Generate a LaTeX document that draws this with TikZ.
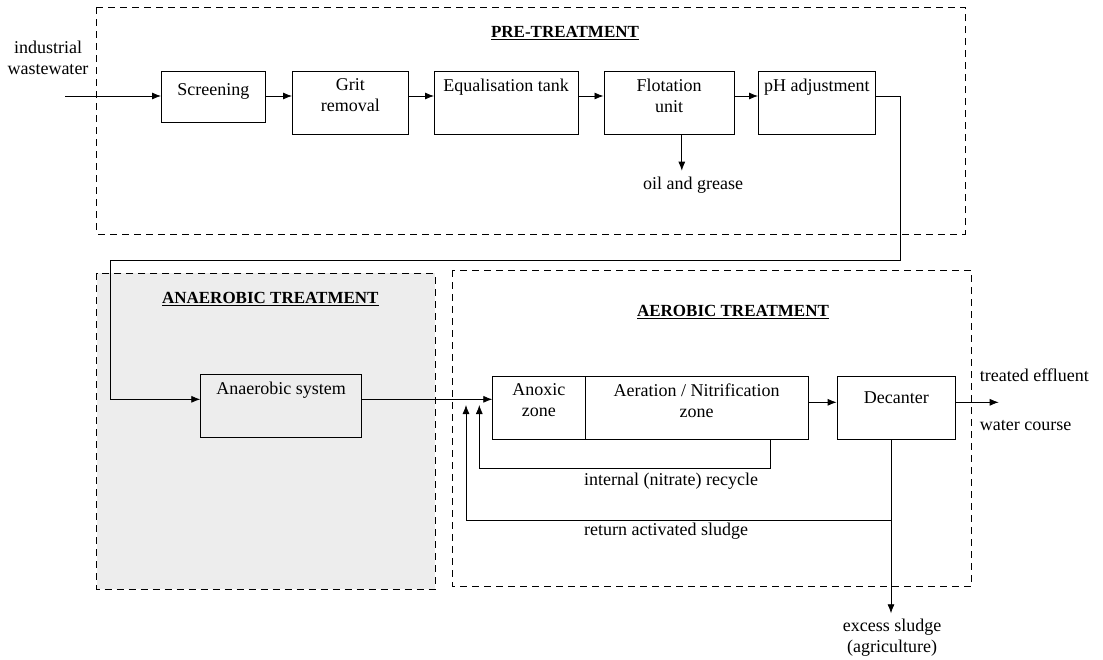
\documentclass[tikz,border=0pt]{standalone}
\usepackage{fontspec}
\setmainfont{Liberation Serif}
\usetikzlibrary{arrows.meta}

\tikzset{
  box/.style={draw, line width=0.9pt, inner sep=0pt, anchor=north west},
  txt/.style={font=\fontsize{18}{21}\selectfont, align=center, inner sep=0pt},
  head/.style={font=\fontsize{17}{20}\selectfont\bfseries, inner sep=0pt},
  zone/.style={draw, line width=0.8pt, dash pattern=on 7pt off 5pt},
  flow/.style={line width=0.8pt, -{Latex[length=9pt,width=7pt]}},
}

\begin{document}
\begin{tikzpicture}[x=1pt, y=-1pt]
  \useasboundingbox (0,0) rectangle (1103,659);

  % treatment zones
  \draw[zone, fill=black!7] (96.7,273.3) rectangle (435,589.3);
  \draw[zone] (96.7,7.3) rectangle (965,234);
  \draw[zone] (452.7,270) rectangle (971,586.7);

  % zone titles
  \node[head] (preT) at (565,33) {\underline{PRE-TREATMENT}};
  \node[head] (anaT) at (270.3,299.3) {\underline{ANAEROBIC TREATMENT}};
  \node[head] (aerT) at (733,312) {\underline{AEROBIC TREATMENT}};

  % pre-treatment units
  \node[box, minimum width=104, minimum height=51,
    label={[txt, anchor=north, yshift=-13pt]north:Screening}] (scr) at (161,70.7) {};
  \node[box, minimum width=116, minimum height=63.6,
    label={[txt, anchor=north, yshift=-8pt]north:Grit\\removal}] (grit) at (292,70.7) {};
  \node[box, minimum width=143.5, minimum height=63.6,
    label={[txt, anchor=north, yshift=-8pt]north:Equalisation tank}] (equ) at (434,70.7) {};
  \node[box, minimum width=130.5, minimum height=63.6,
    label={[txt, anchor=north, yshift=-8pt]north:Flotation\\unit}] (flot) at (603.5,70.7) {};
  \node[box, minimum width=117, minimum height=63.6,
    label={[txt, anchor=north, yshift=-8pt]north:pH adjustment}] (ph) at (758,70.7) {};

  % anaerobic unit
  \node[box, minimum width=160.7, minimum height=63,
    label={[txt, anchor=north, yshift=-8pt]north:Anaerobic system}] (anas) at (200.3,374.3) {};

  % aerobic units
  \node[box, minimum width=92.4, minimum height=63.3,
    label={[txt, anchor=north, yshift=-7.5pt]north:Anoxic\\zone}] (anox) at (492.3,375.7) {};
  \node[box, minimum width=223, minimum height=63.3,
    label={[txt, anchor=north, yshift=-7.5pt]north:Aeration / Nitrification\\zone}] (aer) at (584.7,375.7) {};
  \node[box, minimum width=118.4, minimum height=63.3,
    label={[txt, anchor=north, yshift=-16pt]north:Decanter}] (dec) at (836.6,375.7) {};

  % inlet and outlet texts
  \node[txt] (inlet) at (48,57.5) {industrial\\wastewater};
  \node[txt] (oil) at (693,185) {oil and grease};
  \node[txt, anchor=west] (eff) at (979.6,375.7) {treated effluent};
  \node[txt, anchor=west] (wc) at (979.6,425.7) {water course};
  \node[txt, anchor=west] (irl) at (584,480.7) {internal (nitrate) recycle};
  \node[txt, anchor=west] (rasl) at (584,530.7) {return activated sludge};
  \node[txt] (exs) at (892,638) {excess sludge\\(agriculture)};

  % main line through pre-treatment
  \coordinate (pre)   at (0,96);
  \coordinate (start) at (65,96);
  \draw[flow] (start) -- (scr.west |- pre);
  \draw[flow] (scr.east |- pre) -- (grit.west |- pre);
  \draw[flow] (grit.east |- pre) -- (equ.west |- pre);
  \draw[flow] (equ.east |- pre) -- (flot.west |- pre);
  \draw[flow] (flot.east |- pre) -- (ph.west |- pre);

  % oil and grease off-take
  \coordinate (oilp) at (681.8,170.7);
  \draw[flow] (flot.south -| oilp) -- (oilp);

  % pH adjustment -> anaerobic system
  \coordinate (ana)   at (0,399.3);
  \coordinate (turnA) at (900.7,260);
  \coordinate (turnB) at (110,260);
  \draw[flow] (ph.east |- pre) -| (turnA) -- (turnB) |- (anas.west |- ana);

  % anaerobic -> anoxic
  \draw[flow] (anas.east |- ana) -- (anox.west |- ana);

  % aeration -> decanter -> water course
  \coordinate (aerl) at (0,402.3);
  \coordinate (effp) at (998.7,402.3);
  \draw[flow] (aer.east |- aerl) -- (dec.west |- aerl);
  \draw[flow] (dec.east |- aerl) -- (effp);

  % internal (nitrate) recycle
  \coordinate (rcy)   at (770,468.3);
  \coordinate (rcyin) at (479.3,405);
  \draw[flow] (aer.south -| rcy) -- (rcy) -| (rcyin);

  % return activated sludge and excess sludge
  \coordinate (ras)   at (891,520);
  \coordinate (rasin) at (466,405);
  \coordinate (exsp)  at (891,613.3);
  \draw[flow] (ras) -| (rasin);
  \draw[flow] (dec.south -| exsp) -- (exsp);

\end{tikzpicture}
\end{document}
